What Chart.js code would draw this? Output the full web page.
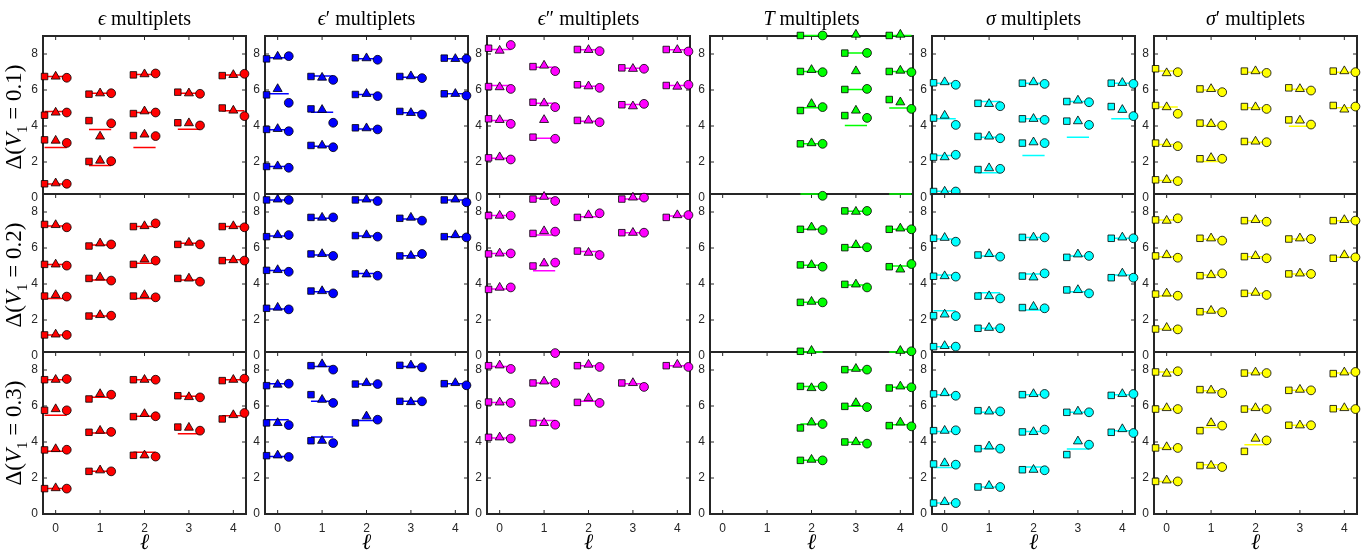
<!DOCTYPE html>
<html>
<head>
<meta charset="utf-8">
<title>Multiplets</title>
<script src="https://cdn.jsdelivr.net/npm/chart.js@4.4.0/dist/chart.umd.min.js"></script>
<style>
  html, body { margin: 0; padding: 0; background: #fff; }
  #page { position: relative; width: 1369px; height: 554px; overflow: hidden; background: #fff; font-family: "Liberation Serif", serif; }
  #page canvas { position: absolute; }
  .title { position: absolute; font-size: 20px; color: #000; white-space: nowrap; transform: translate(-50%, -50%); }
  .ylab { position: absolute; font-size: 23px; color: #000; white-space: nowrap; transform: translate(-50%, -50%) rotate(-90deg); }
  .ylab sub { font-size: 15px; }
  .xlab { position: absolute; font-size: 22px; font-style: italic; transform: translate(-50%, -50%); }
</style>
</head>
<body>
<div id="page"></div>
<script>
const ells = [0, 1, 2, 3, 4];
const yTicks = [0, 2, 4, 6, 8];
const couplings = ["0.1", "0.2", "0.3"];
const symbols = ["ϵ", "ϵ", "ϵ", "T", "σ", "σ"];
const primes = ["", "′", "″", "", "", "′"];
const colours = ["#ff0000", "#0000ff", "#ff00ff", "#00ff00", "#00ffff", "#ffff00"];

// each row: [ell, square, triangle, circle, reference line]
const eps_01 = [
  [0, 6.75, 6.75, 6.68, 6.75], [0, 4.6, 4.75, 4.75, 4.8], [0, 3.23, 3.19, 3.06, 2.8], [0, 0.79, 0.82, 0.79, 0.78],
  [1, 5.77, 5.82, 5.82, 5.82], [1, 4.3, 3.42, 4.15, 3.8], [1, 2.03, 2.08, 2.05, 1.8],
  [2, 6.84, 6.88, 6.92, 6.86], [2, 4.69, 4.82, 4.75, 4.75], [2, 3.47, 3.53, 3.44, 2.8],
  [3, 5.88, 5.82, 5.79, 5.82], [3, 4.18, 4.16, 4.03, 3.82],
  [4, 6.8, 6.84, 6.9, 6.84], [4, 5.0, 4.86, 4.55, 4.85],
];
const eps_02 = [
  [0, 7.31, 7.28, 7.15, 7.22], [0, 5.09, 5.09, 5.02, 5.09], [0, 3.33, 3.39, 3.3, 3.2], [0, 1.17, 1.2, 1.17, 1.17],
  [1, 6.11, 6.26, 6.2, 6.17], [1, 4.31, 4.37, 4.19, 4.22], [1, 2.22, 2.28, 2.24, 2.22],
  [2, 7.19, 7.22, 7.37, 7.2], [2, 5.09, 5.37, 5.3, 5.15], [2, 3.33, 3.39, 3.26, 3.2],
  [3, 6.2, 6.3, 6.2, 6.26], [3, 4.31, 4.31, 4.13, 4.22],
  [4, 7.19, 7.22, 7.15, 7.2], [4, 5.3, 5.33, 5.3, 5.35],
];
const eps_03 = [
  [0, 7.46, 7.46, 7.5, 7.46], [0, 5.76, 5.83, 5.76, 5.48], [0, 3.56, 3.61, 3.57, 3.48], [0, 1.41, 1.44, 1.41, 1.41],
  [1, 6.39, 6.67, 6.63, 6.48], [1, 4.54, 4.63, 4.56, 4.5], [1, 2.37, 2.43, 2.37, 2.37],
  [2, 7.46, 7.46, 7.46, 7.46], [2, 5.41, 5.56, 5.43, 5.43], [2, 3.26, 3.26, 3.19, 3.43],
  [3, 6.57, 6.5, 6.48, 6.54], [3, 4.83, 4.8, 4.63, 4.46],
  [4, 7.41, 7.46, 7.52, 7.46], [4, 5.28, 5.5, 5.61, 5.46],
];
const epsP_01 = [
  [0, 7.73, 7.86, 7.88, 7.79], [0, 5.73, 6.06, 5.29, 5.79], [0, 3.81, 3.84, 3.71, 3.79], [0, 1.75, 1.77, 1.68, 1.75],
  [1, 6.75, 6.69, 6.56, 6.78], [1, 4.95, 4.9, 4.18, 4.77], [1, 2.92, 2.92, 2.82, 2.88],
  [2, 7.79, 7.77, 7.68, 7.73], [2, 5.75, 5.79, 5.66, 5.75], [2, 3.9, 3.88, 3.81, 3.84],
  [3, 6.75, 6.77, 6.66, 6.71], [3, 4.81, 4.73, 4.64, 4.73],
  [4, 7.77, 7.73, 7.73, 7.73], [4, 5.79, 5.79, 5.69, 5.79],
];
const epsP_02 = [
  [0, 8.67, 8.7, 8.67, 8.67], [0, 6.63, 6.72, 6.72, 6.67], [0, 4.76, 4.78, 4.68, 4.75], [0, 2.65, 2.69, 2.59, 2.61],
  [1, 7.7, 7.69, 7.7, 7.65], [1, 5.67, 5.67, 5.56, 5.61], [1, 3.61, 3.61, 3.48, 3.57],
  [2, 8.67, 8.7, 8.61, 8.67], [2, 6.69, 6.72, 6.63, 6.67], [2, 4.56, 4.54, 4.46, 4.59],
  [3, 7.65, 7.69, 7.52, 7.61], [3, 5.56, 5.57, 5.67, 5.57],
  [4, 8.67, 8.7, 8.54, 8.67], [4, 6.63, 6.72, 6.59, 6.63],
];
const epsP_03 = [
  [0, 7.13, 7.19, 7.24, 7.24], [0, 5.06, 5.06, 4.94, 5.24], [0, 3.24, 3.26, 3.17, 3.2],
  [1, 8.24, 8.33, 8.02, 8.2], [1, 6.63, 6.35, 6.17, 6.26], [1, 4.07, 4.07, 3.94, 4.28],
  [2, 7.22, 7.28, 7.22, 7.22], [2, 5.06, 5.43, 5.24, 5.2],
  [3, 8.26, 8.26, 8.15, 8.2], [3, 6.26, 6.22, 6.26, 6.26],
  [4, 7.24, 7.28, 7.15, 7.24],
];
const epsPP_01 = [
  [0, 8.32, 8.19, 8.5, 8.25], [0, 6.19, 6.16, 6.06, 6.25], [0, 4.4, 4.34, 4.12, 4.3], [0, 2.23, 2.27, 2.14, 2.21],
  [1, 7.3, 7.36, 7.05, 7.27], [1, 5.32, 5.27, 5.05, 5.27], [1, null, 4.34, null, null], [1, 3.38, null, 3.29, 3.32],
  [2, 8.25, 8.23, 8.16, 8.23], [2, 6.29, 6.21, 6.12, 6.21], [2, 4.31, 4.31, 4.21, 4.27],
  [3, 7.23, 7.18, 7.18, 7.21], [3, 5.18, 5.1, 5.23, 5.19],
  [4, 8.25, 8.23, 8.14, 8.23], [4, 6.25, 6.19, 6.29, 6.25],
];
const epsPP_02 = [
  [0, 7.8, 7.8, 7.8, 7.8], [0, 5.67, 5.7, 5.7, 5.7], [0, 3.7, 3.8, 3.81, 3.72],
  [1, 8.72, 8.85, 8.61, 8.76], [1, 6.81, 6.94, 6.91, 6.72], [1, 5.0, 5.15, 5.19, 4.74],
  [2, 7.7, 7.83, 7.93, 7.74], [2, 5.83, 5.74, 5.61, 5.8],
  [3, 8.72, 8.81, 8.8, 8.72], [3, 6.85, 6.85, 6.85, 6.85],
  [4, 7.7, 7.83, 7.83, 7.78],
];
const epsPP_03 = [
  [0, 8.24, 8.26, 8.06, 8.2], [0, 6.22, 6.2, 6.17, 6.2], [0, 4.26, 4.26, 4.19, 4.22],
  [1, null, null, 8.94, null], [1, 7.28, 7.37, 7.28, 7.28], [1, 5.06, 5.06, 4.96, 5.2],
  [2, 8.24, 8.3, 8.17, 8.24], [2, 6.2, 6.44, 6.17, 6.26],
  [3, 7.28, 7.28, 7.06, 7.24],
  [4, 8.24, 8.3, 8.17, 8.24],
];
const T_01 = [
  [2, 9.03, null, 9.03, 9.03], [2, 7.03, 7.12, 6.99, 7.03], [2, 4.86, 5.23, 5.05, 5.01], [2, 3.01, 3.05, 3.01, 3.01],
  [3, null, 9.08, null, null], [3, 8.05, null, 8.06, 8.05], [3, null, 7.05, null, null], [3, 6.03, null, 6.06, 6.03], [3, 4.58, 4.86, 4.45, 4.03],
  [4, 9.03, 9.08, null, 9.03], [4, 7.03, 7.08, 6.99, 7.03], [4, 5.47, 5.32, 4.95, 5.0],
];
const T_02 = [
  [2, null, null, 8.9, 9.0], [2, 7.04, 7.15, 7.0, 7.04], [2, 5.06, 5.06, 4.96, 5.04], [2, 2.98, 3.02, 2.98, 2.98],
  [3, 8.06, 8.02, 8.06, 8.04], [3, 6.02, 6.17, 6.04, 6.04], [3, 3.98, 3.98, 3.81, 3.94],
  [4, null, null, null, 9.0], [4, 7.04, 7.09, 7.04, 7.04], [4, 4.96, 4.81, 5.11, 5.0],
];
const T_03 = [
  [2, 9.04, 9.07, null, 9.0], [2, 7.09, 7.0, 7.09, 7.09], [2, 4.78, 5.09, 5.0, 5.0], [2, 2.98, 3.02, 2.98, 2.98],
  [3, 8.02, 8.07, 8.02, 8.02], [3, 5.98, 6.17, 5.94, 5.98], [3, 4.0, 4.0, 3.91, 3.98],
  [4, null, 9.07, 9.04, 9.0], [4, 7.0, 7.09, 7.04, 7.04], [4, 4.91, 5.09, 4.87, 4.96],
];
const sig_01 = [
  [0, 6.4, 6.44, 6.29, 6.38], [0, 4.44, 4.58, 4.06, 4.4], [0, 2.27, 2.27, 2.4, 2.36], [0, 0.36, 0.36, 0.36, 0.38],
  [1, 5.26, 5.23, 5.1, 5.36], [1, 3.42, 3.42, 3.32, 3.38], [1, 1.58, 1.66, 1.62, 1.4],
  [2, 6.38, 6.44, 6.34, 6.38], [2, 4.4, 4.4, 4.34, 4.4], [2, 3.05, 3.1, 3.05, 2.36],
  [3, 5.36, 5.42, 5.32, 5.36], [3, 4.27, 4.27, 4.06, 3.38],
  [4, 6.38, 6.4, 6.34, 6.38], [4, 5.08, 4.9, 4.55, 4.4],
];
const sig_02 = [
  [0, 6.54, 6.57, 6.35, 6.5], [0, 4.43, 4.44, 4.41, 4.5], [0, 2.24, 2.31, 2.22, 2.52], [0, 0.52, 0.56, 0.52, 0.52],
  [1, 5.61, 5.67, 5.52, 5.55], [1, 3.33, 3.33, 3.2, 3.52], [1, 1.54, 1.57, 1.54, 1.54],
  [2, 6.59, 6.59, 6.59, 6.59], [2, 4.44, 4.37, 4.59, 4.56], [2, 2.69, 2.74, 2.65, 2.56],
  [3, 5.48, 5.65, 5.56, 5.56], [3, 3.67, 3.67, 3.48, 3.57],
  [4, 6.54, 6.59, 6.54, 6.54], [4, 4.35, 4.59, 4.35, 4.5],
];
const sig_03 = [
  [0, 6.67, 6.72, 6.57, 6.63], [0, 4.63, 4.63, 4.65, 4.59], [0, 2.78, 2.83, 2.74, 2.59], [0, 0.61, 0.67, 0.61, 0.61],
  [1, 5.74, 5.7, 5.7, 5.65], [1, 3.63, 3.76, 3.63, 3.63], [1, 1.5, 1.57, 1.5, 1.5],
  [2, 6.63, 6.67, 6.67, 6.63], [2, 4.56, 4.56, 4.69, 4.59], [2, 2.46, 2.46, 2.43, 2.61],
  [3, 5.65, 5.7, 5.65, 5.65], [3, 3.3, 4.04, 3.85, 3.61],
  [4, 6.59, 6.67, 6.67, 6.63], [4, 4.54, 4.72, 4.5, 4.63],
];
const sigP_01 = [
  [0, 7.18, 6.94, 6.99, 7.05], [0, 5.14, 5.05, 4.68, 5.05], [0, 3.05, 3.01, 2.88, 2.97], [0, 1.01, 1.01, 0.94, 0.97],
  [1, 6.06, 6.06, 5.88, 6.0], [1, 4.16, 4.12, 4.03, 4.03], [1, 2.18, 2.23, 2.18, 2.03],
  [2, 7.05, 7.05, 6.95, 6.99], [2, 5.08, 5.05, 4.95, 5.01], [2, 3.14, 3.14, 3.1, 3.1],
  [3, 6.12, 6.06, 5.97, 6.04], [3, 4.34, 4.31, 4.08, 3.99],
  [4, 7.05, 7.05, 6.99, 6.99], [4, 5.14, 4.92, 5.08, 5.01],
];
const sigP_02 = [
  [0, 7.56, 7.52, 7.65, 7.56], [0, 5.56, 5.61, 5.46, 5.52], [0, 3.44, 3.48, 3.35, 3.33], [0, 1.5, 1.57, 1.48, 1.5],
  [1, 6.54, 6.54, 6.41, 6.48], [1, 4.46, 4.5, 4.59, 4.5], [1, 2.46, 2.52, 2.43, 2.46],
  [2, 7.52, 7.56, 7.46, 7.52], [2, 5.52, 5.56, 5.43, 5.52], [2, 3.48, 3.52, 3.39, 3.48],
  [3, 6.5, 6.54, 6.5, 6.5], [3, 4.56, 4.59, 4.56, 4.56],
  [4, 7.52, 7.56, 7.52, 7.52], [4, 5.43, 5.61, 5.48, 5.48],
];
const sigP_03 = [
  [0, 7.89, 7.8, 7.93, 7.89], [0, 5.83, 5.89, 5.83, 5.83], [0, 3.67, 3.72, 3.67, 3.67], [0, 1.81, 1.87, 1.81, 1.81],
  [1, 6.91, 6.87, 6.72, 6.85], [1, 4.63, 5.06, 4.91, 4.81], [1, 2.69, 2.69, 2.61, 2.74],
  [2, 7.83, 7.87, 7.83, 7.83], [2, 5.83, 5.89, 5.83, 5.83], [2, 3.48, 4.19, 4.09, 3.85],
  [3, 6.87, 6.91, 6.87, 6.87], [3, 4.93, 4.93, 4.93, 4.93],
  [4, 7.8, 7.87, 7.89, 7.83], [4, 5.85, 5.89, 5.83, 5.83],
];

// columns of the grid, top row first
const grid = [
  [eps_01, eps_02, eps_03],
  [epsP_01, epsP_02, epsP_03],
  [epsPP_01, epsPP_02, epsPP_03],
  [T_01, T_02, T_03],
  [sig_01, sig_02, sig_03],
  [sigP_01, sigP_02, sigP_03],
];

const page = document.getElementById("page");
const tickFont = { family: "Liberation Sans, Arial, sans-serif", size: 12 };
const tickColour = "#262626";
const panelW = 203, panelH = 162;
const colLeft = (c) => Math.round(42.5 + 222.35 * c);
const rowTop = (r) => Math.round(35.5 + 158.4 * r);

// white plot background, box and inward ticks (drawn under the markers)
const framePlugin = {
  id: "frame",
  beforeDatasetsDraw(chart) {
    const { ctx, chartArea: a, scales } = chart;
    ctx.save();
    ctx.fillStyle = "#fff";
    ctx.fillRect(a.left, a.top, a.right - a.left, a.bottom - a.top);
    ctx.strokeStyle = tickColour;
    ctx.lineWidth = 1;
    ctx.beginPath();
    yTicks.forEach((v) => {
      const py = scales.y.getPixelForValue(v);
      ctx.moveTo(a.left, py); ctx.lineTo(a.left + 4, py);
      ctx.moveTo(a.right, py); ctx.lineTo(a.right - 4, py);
    });
    ells.forEach((v) => {
      const px = scales.x.getPixelForValue(v);
      ctx.moveTo(px, a.top); ctx.lineTo(px, a.top + 4);
      ctx.moveTo(px, a.bottom); ctx.lineTo(px, a.bottom - 4);
    });
    ctx.stroke();
    ctx.lineWidth = 2;
    ctx.strokeRect(a.left, a.top, a.right - a.left, a.bottom - a.top);
    ctx.restore();
  },
};

function panelDatasets(rows, colour) {
  const pick = (k, dx) => rows.filter((r) => r[k] !== null).map((r) => ({ x: r[0] + dx, y: r[k] }));
  const ref = [];
  rows.forEach((r) => {
    if (r[4] !== null) ref.push({ x: r[0] - 0.25, y: r[4] }, { x: r[0] + 0.25, y: r[4] }, { x: r[0] + 0.25, y: null });
  });
  const marker = { backgroundColor: colour, borderColor: "#000", borderWidth: 0.8, clip: false };
  return [
    { ...marker, data: pick(1, -0.25), pointStyle: "rect", pointRadius: 4.6 },
    { ...marker, data: pick(2, 0), pointStyle: "triangle", pointRadius: 5.2 },
    { ...marker, data: pick(3, 0.25), pointStyle: "circle", pointRadius: 4.4 },
    { data: ref, showLine: true, borderColor: colour, borderWidth: 1.5, pointRadius: 0, spanGaps: false, clip: false },
  ];
}

grid.forEach((column, c) => {
  column.forEach((rows, r) => {
    const bottomRow = r === 2;
    const padL = 32, padT = 8, padR = 8, padB = bottomRow ? 28 : 8;
    const canvas = document.createElement("canvas");
    canvas.width = panelW + padL + padR;
    canvas.height = panelH + padT + padB;
    canvas.style.left = colLeft(c) - padL + "px";
    canvas.style.top = rowTop(r) - padT + "px";
    page.appendChild(canvas);

    new Chart(canvas.getContext("2d"), {
      type: "scatter",
      data: { datasets: panelDatasets(rows, colours[c]) },
      options: {
        responsive: false,
        animation: false,
        devicePixelRatio: 1,
        layout: { padding: { left: 0, top: padT, right: padR, bottom: bottomRow ? 0 : padB } },
        plugins: { legend: { display: false }, tooltip: { enabled: false } },
        scales: {
          x: {
            type: "linear", min: -0.285, max: 4.285,
            grid: { display: false, drawTicks: false }, border: { display: false },
            afterBuildTicks: (s) => { s.ticks = ells.map((v) => ({ value: v })); },
            afterFit: (s) => { s.height = bottomRow ? padB : 0; s.paddingLeft = 0; s.paddingRight = 0; },
            ticks: { display: bottomRow, padding: 7, font: tickFont, color: tickColour, maxRotation: 0 },
          },
          y: {
            type: "linear", min: 0, max: 9,
            grid: { display: false, drawTicks: false }, border: { display: false },
            afterBuildTicks: (s) => { s.ticks = yTicks.map((v) => ({ value: v })); },
            afterFit: (s) => { s.width = padL; s.paddingTop = 0; s.paddingBottom = 0; },
            ticks: { padding: 5, font: tickFont, color: tickColour },
          },
        },
      },
      plugins: [framePlugin],
    });
  });

  const cx = colLeft(c) + panelW / 2;
  const t = document.createElement("div");
  t.className = "title";
  t.style.left = cx + "px";
  t.style.top = "18px";
  t.innerHTML = "<i>" + symbols[c] + "</i>" + primes[c] + " multiplets";
  page.appendChild(t);

  const xl = document.createElement("div");
  xl.className = "xlab";
  xl.style.left = cx + "px";
  xl.style.top = "542px";
  xl.textContent = "ℓ";
  page.appendChild(xl);
});

couplings.forEach((v, r) => {
  const yl = document.createElement("div");
  yl.className = "ylab";
  yl.style.left = "16px";
  yl.style.top = rowTop(r) + panelH / 2 + "px";
  yl.innerHTML = "Δ(<i>V</i><sub>1</sub> = " + v + ")";
  page.appendChild(yl);
});
</script>
</body>
</html>
